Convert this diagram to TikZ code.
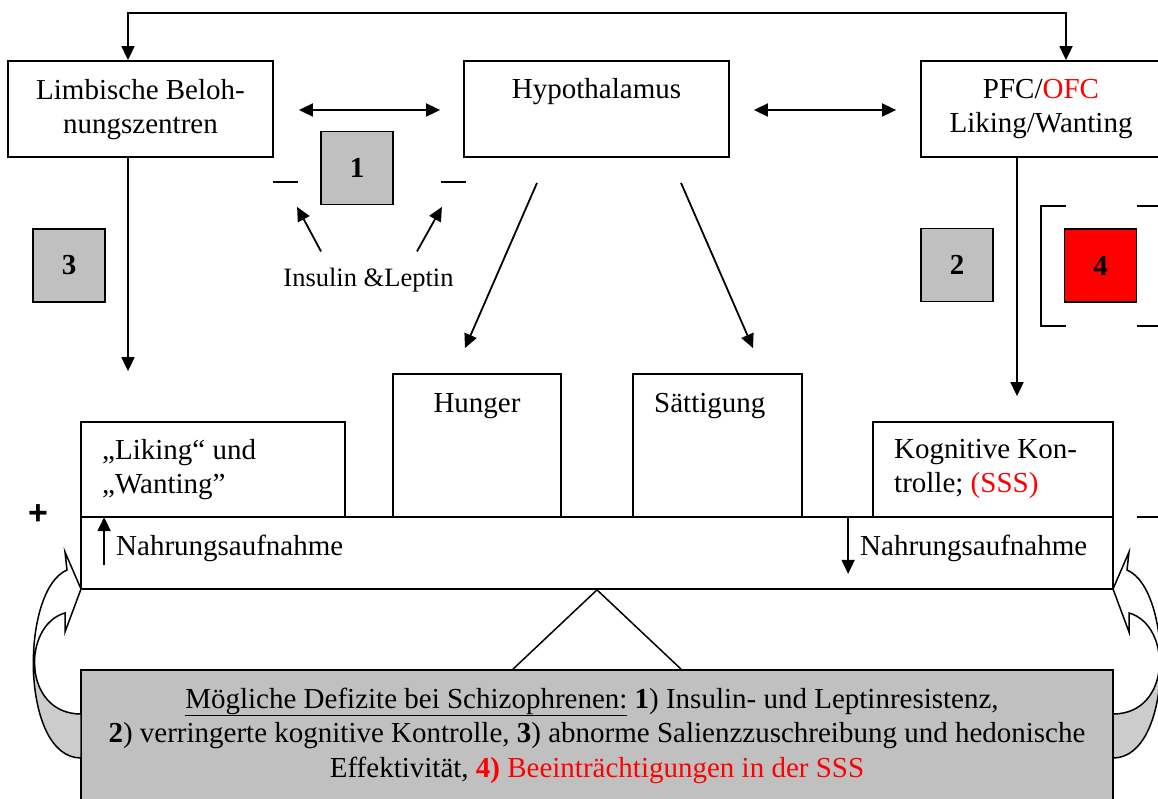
\documentclass[tikz,border=0pt]{standalone}
\usepackage{fontspec}
\setmainfont{Liberation Serif}
\setsansfont{Liberation Sans}
\usetikzlibrary{arrows.meta,calc}
\definecolor{boxgray}{HTML}{C0C0C0}
\definecolor{arrgray}{HTML}{CCCCCC}
\definecolor{signred}{HTML}{FF0000}

\begin{document}
\begin{tikzpicture}[x=1pt,y=-1pt,
  box/.style={draw, line width=1.8pt, inner sep=0pt},
  numbox/.style={box, fill=boxgray, minimum width=72pt, minimum height=73pt, font=\fontsize{29}{34.5}\selectfont\bfseries},
  txt/.style={inner sep=0pt, font=\fontsize{29}{34.5}\selectfont},
  arr/.style={line width=1.8pt, -{Triangle[length=14pt,width=13pt]}},
  darr/.style={line width=1.8pt, {Triangle[length=14pt,width=13pt]}-{Triangle[length=14pt,width=13pt]}},
  thin line/.style={line width=1.5pt}]
\useasboundingbox (0,0) rectangle (1158,799);
\fill[white] (0,0) rectangle (1158,799);

% upper row
\node[box, minimum width=265pt, minimum height=96pt] (limb) at (140.5,109) {};
\node[box, minimum width=265pt, minimum height=96pt] (hypo) at (596.5,109) {};
\node[box, minimum width=240pt, minimum height=96pt] (pfc) at (1041,109) {};
\node[txt, align=center, anchor=north] (limb-t) at (140.5,79) {Limbische Beloh-\\nungszentren};
\node[txt, anchor=base] (hypo-t) at (596.5,99) {Hypothalamus};
\node[txt, align=center, anchor=north] (pfc-t) at (1041,79) {PFC/\textcolor{signred}{OFC}\\Liking/Wanting};

\coordinate (topL) at (128,13);
\coordinate (topR) at (1066,13);
\draw[darr] (limb.north -| topL) |- (topR) -- (pfc.north -| topR);
\draw[darr] ($(limb.east)+(25,1)$) -- ($(hypo.west)+(-23,1)$);
\draw[darr] ($(hypo.east)+(24,1)$) -- ($(pfc.west)+(-24,1)$);

% numbers
\node[numbox] (n1) at (357,168) {1};
\node[numbox] (n3) at (69,265.5) {3};
\node[numbox] (n2) at (957,265) {2};
\node[numbox, fill=signred] (n4) at (1100.5,265.5) {4};

\node[inner sep=0pt, font=\fontsize{26.5}{32}\selectfont, anchor=base] (ins) at (368.5,287) {Insulin \&Leptin};
\draw[arr] ($(ins.north)+(-47.5,-17)$) -- ($(n1.south west)+(-23,1.5)$);
\draw[arr] ($(ins.north)+(48.5,-17)$) -- ($(n1.south east)+(48,1.5)$);
\draw[thin line] (273,182) -- (298,182);
\draw[thin line] (441,182) -- (466,182);

% brackets round 4
\draw[line width=1.8pt] (1066,206) -- (1041,206) -- (1041,326) -- (1066,326);
\draw[line width=1.8pt] (1137,206) -- (1162,206) -- (1162,326) -- (1137,326);

% lower row
\node[box, minimum width=264pt, minimum height=95pt] (liking) at (213,469.5) {};
\node[box, minimum width=168pt, minimum height=143pt] (hunger) at (477,445.5) {};
\node[box, minimum width=169pt, minimum height=143pt] (satt) at (717.5,445.5) {};
\node[box, minimum width=240pt, minimum height=95pt] (kog) at (993,469.5) {};
\node[box, minimum width=1032pt, minimum height=72pt] (bar) at (597,553) {};

\node[txt, align=left, anchor=north west] (liking-t) at (102,439) {„Liking“ und\\„Wanting”};
\node[txt, anchor=base] (hunger-t) at (477,412) {Hunger};
\node[txt, anchor=base west] (satt-t) at (654,412) {Sättigung};
\node[txt, align=left, anchor=north west] (kog-t) at (894,439) {Kognitive Kon-\\trolle; \textcolor{signred}{(SSS)}};
\node[txt, anchor=base west] (nahr-l) at (116,555) {Nahrungsaufnahme};
\node[txt, anchor=base west] (nahr-r) at (860,555) {Nahrungsaufnahme};

\draw[arr] (limb.south -| topL) -- ($(liking.north -| topL)+(0,-50)$);
\draw[arr] ($(pfc.south)+(-24,0)$) -- ($(kog.north)+(24,-25)$);
\draw[arr] ($(hypo.south)+(-59.5,25)$) -- ($(hunger.north)+(-12,-25)$);
\draw[arr] ($(hypo.south)+(84.5,25)$) -- ($(satt.north)+(35.5,-25)$);
\draw[arr] ($(bar.north west)+(24,49)$) -- ($(bar.north west)+(24,1)$);
\draw[arr] ($(kog.south west)+(-24,0)$) -- ++(0,56);

\node[inner sep=0pt, font=\sffamily\bfseries\fontsize{34}{34}\selectfont] (plus) at (38,515) {+};
\draw[line width=1.8pt] (1137,517) -- (1170,517);

% deficits
\node[box, fill=boxgray, minimum width=1032pt, minimum height=132pt] (def) at (597,736) {};
\draw[thin line] ($(def.north)+(-84,0)$) -- (bar.south) -- ($(def.north)+(84,0)$);
\node[txt, anchor=base] (def1) at (592,708) {\underline{Mögliche Defizite bei Schizophrenen:} \textbf{1}) Insulin- und Leptinresistenz,};
\node[txt, anchor=base] (def2) at (597,742.5) {\textbf{2}) verringerte kognitive Kontrolle, \textbf{3}) abnorme Salienzzuschreibung und hedonische};
\node[txt, anchor=base] (def3) at (597,777) {Effektivität, \textcolor{signred}{\textbf{4)} Beeinträchtigungen in der SSS}};

% curved arrows
\filldraw[thin line, fill=arrgray] (81,758) .. controls (50.5,758) and (35.25,716) .. (33.5,671.5) -- (34.75,668) .. controls (36.75,691.75) and (51.5,714) .. (81,714) -- cycle;
\filldraw[thin line, fill=white] (33.5,671.5) .. controls (31.75,627) and (43.5,580) .. (67,570) -- (65,552) -- (81,589) -- (65,632) -- (65,613) .. controls (43.5,619) and (32.75,644.25) .. (34.75,668) -- cycle;
\filldraw[thin line, fill=arrgray] (1113,758) .. controls (1143.5,758) and (1158.75,716) .. (1160.5,671.5) -- (1159.25,668) .. controls (1157.25,691.75) and (1142.5,714) .. (1113,714) -- cycle;
\filldraw[thin line, fill=white] (1160.5,671.5) .. controls (1162.25,627) and (1150.5,580) .. (1127,570) -- (1129,552) -- (1113,589) -- (1129,632) -- (1129,613) .. controls (1150.5,619) and (1161.25,644.25) .. (1159.25,668) -- cycle;
\end{tikzpicture}
\end{document}
